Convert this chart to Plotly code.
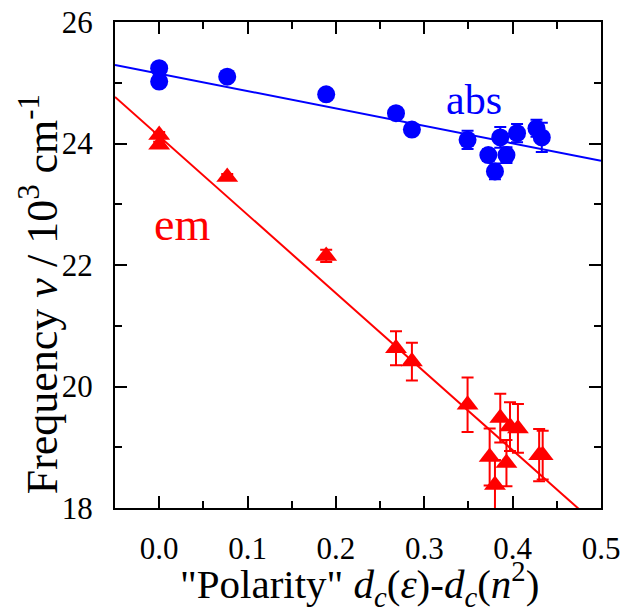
import numpy as np
import plotly.graph_objects as go

# Absorption maxima (blue circles)
abs_polarity = [0.0, 0.0, 0.077, 0.189, 0.268, 0.286, 0.349, 0.3725, 0.380, 0.386, 0.393, 0.405, 0.427, 0.433]
abs_freq = [25.24, 25.02, 25.10, 24.81, 24.50, 24.23, 24.06, 23.81, 23.54, 24.10, 23.81, 24.17, 24.25, 24.10]
abs_err = [0, 0, 0, 0, 0, 0, 0.15, 0.10, 0.13, 0.17, 0.13, 0.15, 0.14, 0.24]

# Emission maxima (red triangles)
em_polarity = [0.0, 0.0, 0.077, 0.189, 0.268, 0.286, 0.349, 0.374, 0.380, 0.386, 0.393, 0.397, 0.406, 0.430, 0.434]
em_freq = [24.14, 23.98, 23.45, 22.15, 20.63, 20.41, 19.70, 18.84, 18.38, 19.48, 18.74, 19.34, 19.31, 18.87, 18.87]
em_err = [0.05, 0.05, 0.05, 0.10, 0.28, 0.31, 0.45, 0.47, 0.41, 0.40, 0.38, 0.40, 0.40, 0.43, 0.40]

# Linear fits: frequency = intercept + slope * polarity
abs_fit_intercept, abs_fit_slope = 25.15, -2.87
em_fit_intercept, em_fit_slope = 24.12, -12.92

x_range = [-0.05, 0.5]
y_range = [18, 26]
x_ticks = [0.0, 0.1, 0.2, 0.3, 0.4, 0.5]
y_ticks = [18, 20, 22, 24, 26]

FONT = "Liberation Serif, Times New Roman, serif"
BLUE = "#0000ff"
RED = "#ff0000"

fit_x = np.array(x_range)

fig = go.Figure()

fig.add_trace(go.Scatter(
    x=fit_x, y=abs_fit_intercept + abs_fit_slope * fit_x,
    mode="lines", line=dict(color=BLUE, width=2), showlegend=False, hoverinfo="skip"))
fig.add_trace(go.Scatter(
    x=fit_x, y=em_fit_intercept + em_fit_slope * fit_x,
    mode="lines", line=dict(color=RED, width=2), showlegend=False, hoverinfo="skip"))

fig.add_trace(go.Scatter(
    x=abs_polarity, y=abs_freq, mode="markers",
    marker=dict(symbol="circle", size=18, color=BLUE),
    error_y=dict(type="data", array=abs_err, color=BLUE, thickness=2, width=6, visible=True),
    showlegend=False))
fig.add_trace(go.Scatter(
    x=em_polarity, y=em_freq, mode="markers",
    marker=dict(symbol="triangle-up", size=19, color=RED),
    error_y=dict(type="data", array=em_err, color=RED, thickness=2, width=6, visible=True),
    showlegend=False))

axis_common = dict(
    showline=True, linecolor="black", linewidth=2, mirror="ticks",
    ticks="inside", ticklen=12, tickwidth=2, tickcolor="black",
    showgrid=False, zeroline=False,
    tickfont=dict(family=FONT, size=31, color="black"),
)

fig.update_xaxes(range=x_range, tickvals=x_ticks, tickformat=".1f",
                 minor=dict(ticks="inside", ticklen=7, tickwidth=2, tickcolor="black", dtick=0.05, showgrid=False),
                 ticklabelstandoff=12, **axis_common)
fig.update_yaxes(range=y_range, tickvals=y_ticks,
                 minor=dict(ticks="inside", ticklen=7, tickwidth=2, tickcolor="black", dtick=1, showgrid=False),
                 ticklabelstandoff=14, **axis_common)

fig.add_annotation(x=0.356, y=24.72, xref="x", yref="y", text="abs", showarrow=False,
                   xanchor="center", yanchor="middle",
                   font=dict(family=FONT, size=42, color=BLUE))
fig.add_annotation(x=0.026, y=22.66, xref="x", yref="y", text="em", showarrow=False,
                   xanchor="center", yanchor="middle",
                   font=dict(family=FONT, size=46, color=RED))

fig.add_annotation(
    x=0.503, y=-0.156, xref="paper", yref="paper", showarrow=False,
    xanchor="center", yanchor="middle",
    text='"Polarity" <i>d</i><sub><i>c</i></sub>(<i>ε</i>)-<i>d</i><sub><i>c</i></sub>(<i>n</i><sup>2</sup>)',
    font=dict(family=FONT, size=41, color="black"))
fig.add_annotation(
    x=-0.156, y=0.44, xref="paper", yref="paper", showarrow=False, textangle=-90,
    xanchor="center", yanchor="middle",
    text="Frequency <i>ν</i> / 10<sup>3</sup> cm<sup>-1</sup>",
    font=dict(family=FONT, size=44, color="black"))

fig.update_layout(
    width=622, height=608,
    margin=dict(l=115, r=21, t=22, b=100, autoexpand=False),
    plot_bgcolor="white", paper_bgcolor="white",
)

fig.write_html("out.html")
